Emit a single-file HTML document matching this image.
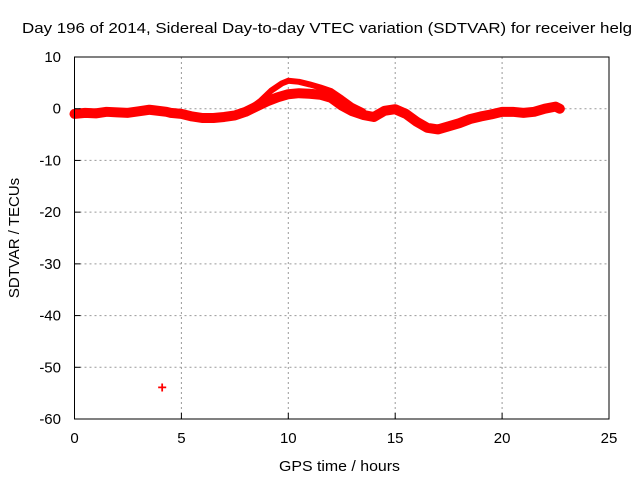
<!DOCTYPE html>
<html><head><meta charset="utf-8"><style>
html,body{margin:0;padding:0;background:#fff}
svg{display:block;font-family:"Liberation Sans",sans-serif}
</style></head><body>
<svg id="chart" width="640" height="480" viewBox="0 0 640 480">
<rect width="640" height="480" fill="#fff"/>
<text x="22" y="33" font-size="15" textLength="610" lengthAdjust="spacingAndGlyphs">Day 196 of 2014, Sidereal Day-to-day VTEC variation (SDTVAR) for receiver helg</text>
<g id="grid"></g>
<g id="series"></g>
<rect x="74.5" y="57" width="534.5" height="362" fill="none" stroke="#000" stroke-width="1"/>
<g id="ticks"></g>
<text x="279" y="471" font-size="15" textLength="121" lengthAdjust="spacingAndGlyphs">GPS time / hours</text>
<text x="19" y="238" font-size="15" text-anchor="middle" transform="rotate(-90 19 238)">SDTVAR / TECUs</text>
</svg>
<script>
const xTicks=[0,5,10,15,20,25];
const yTicks=[10,0,-10,-20,-30,-40,-50,-60];
const mainT=[0,0.5,1,1.5,2,2.5,3,3.5,3.7,4.3,4.5,5,5.5,6,6.5,7,7.5,8,8.5,9,9.5,10,10.5,11,11.5,12,12.5,13,13.5,14,14.5,15,15.5,16,16.5,17,17.5,18,18.5,19,19.5,20,20.5,21,21.5,22,22.5,22.7];
const mainV=[-1,-0.8,-0.9,-0.6,-0.7,-0.8,-0.5,-0.2,-0.3,-0.6,-0.8,-1,-1.5,-1.8,-1.8,-1.6,-1.3,-0.6,0.4,1.4,2.2,2.8,3,2.9,2.7,2.1,0.6,-0.5,-1.2,-1.6,-0.4,-0.1,-1,-2.5,-3.7,-4,-3.4,-2.8,-2,-1.5,-1.1,-0.6,-0.6,-0.8,-0.6,0,0.4,0];
const arcT=[8.2,8.7,9.2,9.7,10,10.5,11,11.5,12,12.5,13,13.5];
const arcV=[0,1.5,3.5,4.9,5.4,5.2,4.7,4.1,3.4,2,0.5,-0.5];
const outT=[4.1];
const outV=[-53.7];
const X=t=>74.5+t*(534.5/25);
const Y=v=>57+(10-v)*(362/70);
const NS="http://www.w3.org/2000/svg";
function mk(tag,attrs,parent){const e=document.createElementNS(NS,tag);for(const k in attrs)e.setAttribute(k,attrs[k]);parent.appendChild(e);return e;}
const grid=document.getElementById('grid'),ticks=document.getElementById('ticks'),series=document.getElementById('series');
xTicks.forEach(t=>{
  if(t>0&&t<25){const g=mk('line',{x1:X(t),x2:X(t),y1:57,y2:419,stroke:'#999','stroke-dasharray':'2,3'},grid);
  
  }
  const tk=mk('line',{x1:X(t),x2:X(t),y1:419,y2:413,stroke:'#000'},ticks);
  
  
  const l=mk('text',{x:X(t),y:443,'font-size':15,'text-anchor':'middle'},ticks);l.textContent=t;
  
  
});
yTicks.forEach(v=>{
  if(v<10&&v>-60){const g=mk('line',{x1:74.5,x2:609,y1:Y(v),y2:Y(v),stroke:'#999','stroke-dasharray':'2,3'},grid);
  
  }
  const tk=mk('line',{x1:74.5,x2:80.5,y1:Y(v),y2:Y(v),stroke:'#000'},ticks);
  
  
  const l=mk('text',{x:61,y:Y(v)+5,'font-size':15,'text-anchor':'end'},ticks);l.textContent=v;
  
  
});
function line(T,V,w,name){
  const p=mk('polyline',{points:T.map((t,i)=>X(t)+','+Y(V[i])).join(' '),fill:'none',stroke:'#f00','stroke-width':w,'stroke-linejoin':'round','stroke-linecap':'round'},series);
  
  
}
line(mainT,mainV,10,'sdtvar-main-band');
line(arcT,arcV,6,'sdtvar-upper-arc');
outT.forEach((t,i)=>{
  const m=mk('text',{x:X(t),y:Y(outV[i])+6,'font-size':16,fill:'#f00','text-anchor':'middle','font-weight':'bold'},series);
  m.textContent='+';
  
  
});
</script>
</body></html>
